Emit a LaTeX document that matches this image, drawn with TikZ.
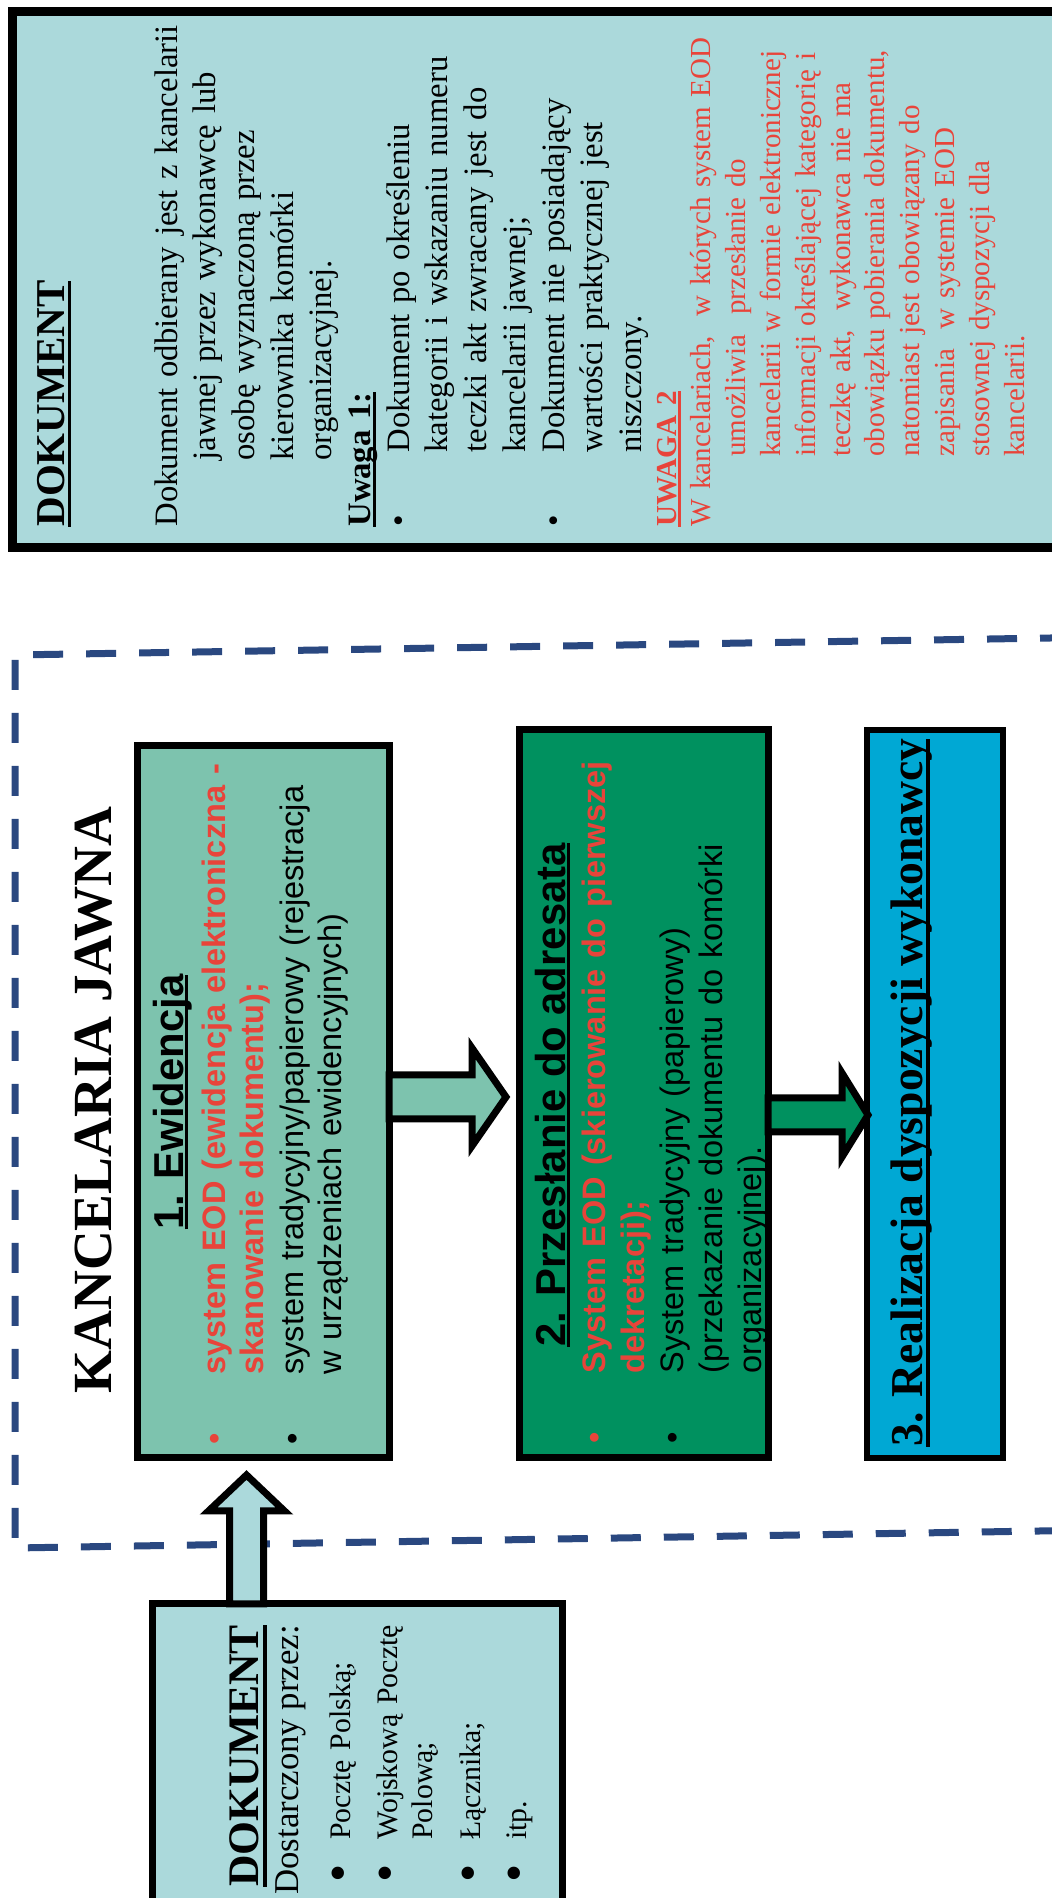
\documentclass[tikz,border=0pt]{standalone}
\usepackage{fontspec}
\setmainfont{Liberation Serif}
\setsansfont{Liberation Sans}
\usetikzlibrary{calc}

\definecolor{notebg}{RGB}{171,217,219}
\definecolor{ewidgreen}{RGB}{125,195,174}
\definecolor{przesgreen}{RGB}{0,145,95}
\definecolor{realizblue}{RGB}{0,168,212}
\definecolor{eodred}{RGB}{232,68,58}
\definecolor{frameblue}{RGB}{42,72,128}

% underline with its own depth and thickness
\newsavebox{\ulbox}
\newcommand{\ulbar}[3]{\sbox\ulbox{#3}\leavevmode\rlap{\rule[-#1]{\wd\ulbox}{#2}}\usebox\ulbox}
% bullets
\newcommand{\sbul}[1]{\leavevmode\llap{\color{#1}\textbullet\hspace{29.5pt}}}
\newcommand{\dbul}{\makebox[27.5pt][l]{\hspace{6pt}\raisebox{-2.6pt}{\scalebox{1.75}{\textbullet}}}}

\begin{document}
\begin{tikzpicture}[
    x=0.5pt, y=0.5pt,
    box/.style={draw=black, line width=3.5pt, fill=#1, inner sep=0pt, outer sep=0pt},
    vtitle/.style={rotate=90, inner sep=0pt},
    vtext/.style={rotate=90, inner sep=0pt, text width=420pt, align=left},
    blockarrow/.style={draw=black, line width=3.5pt, line join=miter, fill=#1},
    frame/.style={draw=frameblue, line width=3.5pt, dash pattern=on 15pt off 11.5pt},
  ]
  \useasboundingbox (0,0) rectangle (1052,1898);

  % --- KANCELARIA JAWNA frame ------------------------------------------
  \draw[frame] (1070,1260.3) -- (15,1243) -- (15,350) -- (1070,367.5);
  \node[vtitle, anchor=base, font=\bfseries\fontsize{27.6pt}{30pt}\selectfont] (kanc)
    at (111,798) {KANCELARIA JAWNA};

  % --- note on top ----------------------------------------------------
  \node[box=notebg, line width=4.5pt, minimum width=531.5pt, minimum height=268pt] (note)
    at (543.5,1618) {};
  \node[vtitle, anchor=base west, font=\bfseries\fontsize{20.5pt}{24pt}\selectfont] (notetitle)
    at (64,1371) {\ulbar{3.5pt}{1.7pt}{DOKUMENT}};
  \node[vtext, anchor=base west, font=\fontsize{16.35pt}{19.35pt}\selectfont] (notetext)
    at (177,1371) {Dokument odbierany jest z kancelarii\\
      \hspace*{33pt}jawnej przez wykonawcę lub\\
      \hspace*{33pt}osobę wyznaczoną przez\\
      \hspace*{33pt}kierownika komórki\\
      \hspace*{33pt}organizacyjnej.\\
      \textbf{\ulbar{2.5pt}{1.5pt}{Uwaga 1:}}\\
      \makebox[37pt][l]{\textbullet}Dokument po określeniu\\
      \hspace*{37pt}kategorii i wskazaniu numeru\\
      \hspace*{37pt}teczki akt zwracany jest do\\
      \hspace*{37pt}kancelarii jawnej;\\
      \makebox[37pt][l]{\textbullet}Dokument nie posiadający\\
      \hspace*{37pt}wartości praktycznej jest\\
      \hspace*{37pt}niszczony.};
  \node[vtext, anchor=base west, text=eodred, font=\fontsize{14.5pt}{17.4pt}\selectfont] (uwaga)
    at (676,1371) {\textbf{\ulbar{2.5pt}{1.5pt}{UWAGA 2}}\\
      W kancelariach,\ \ w których system EOD\\
      \hspace*{35pt}umożliwia\ \ przesłanie do\\
      \hspace*{35pt}kancelarii w formie elektronicznej\\
      \hspace*{35pt}informacji określającej kategorię i\\
      \hspace*{35pt}teczkę akt,\ \ wykonawca nie ma\\
      \hspace*{35pt}obowiązku pobierania dokumentu,\\
      \hspace*{35pt}natomiast jest obowiązany do\\
      \hspace*{35pt}zapisania\ \ w systemie EOD\\
      \hspace*{35pt}stosownej dyspozycji dla\\
      \hspace*{35pt}kancelarii.};

  % --- three steps ----------------------------------------------------
  \node[box=ewidgreen, minimum width=126pt, minimum height=356pt] (ewid) at (263,796) {};
  \node[vtitle, anchor=base, font=\sffamily\bfseries\fontsize{20.9pt}{24pt}\selectfont] (ewidtitle)
    at (183,796) {\ulbar{2.5pt}{1.5pt}{1. Ewidencja}};
  \node[vtext, anchor=base west, font=\sffamily\fontsize{16.25pt}{19pt}\selectfont] (ewidtext)
    at (225,523) {\sbul{eodred}{\bfseries\color{eodred}system EOD (ewidencja elektroniczna -\\
      skanowanie dokumentu);}\\[1pt]
      \sbul{black}system tradycyjny/papierowy (rejestracja\\
      w urządzeniach ewidencyjnych)};

  \node[box=przesgreen, minimum width=124.5pt, minimum height=364pt] (przes) at (643.5,804) {};
  \node[vtitle, anchor=base, font=\sffamily\bfseries\fontsize{20.9pt}{24pt}\selectfont] (prztitle)
    at (565,803) {\ulbar{2.5pt}{1.5pt}{2. Przesłanie do adresata}};
  \node[vtext, anchor=base west, font=\sffamily\fontsize{16.25pt}{19.5pt}\selectfont] (prztext)
    at (605,524) {\sbul{eodred}{\bfseries\color{eodred}System EOD (skierowanie do pierwszej\\
      dekretacji);}\\
      \sbul{black}System tradycyjny (papierowy)\\
      (przekazanie dokumentu do komórki\\
      organizacyjnej).};

  \node[box=realizblue, line width=3pt, minimum width=68pt, minimum height=364pt] (realiz)
    at (935,804) {};
  \node[vtitle, anchor=base west, font=\bfseries\fontsize{22.8pt}{26pt}\selectfont] (realiztitle)
    at (922,451) {\ulbar{4pt}{2pt}{3. Realizacja dyspozycji wykonawcy}};

  % --- incoming document ----------------------------------------------
  \node[box=notebg, minimum width=205pt, minimum height=153pt] (dostarcz) at (357,141) {};
  \node[vtitle, anchor=base west, font=\bfseries\fontsize{21.8pt}{24pt}\selectfont] (dostitle)
    at (258,11) {\ulbar{4.5pt}{2pt}{DOKUMENT}};
  \node[vtitle, anchor=base west, font=\fontsize{17.4pt}{17.5pt}\selectfont] (dosthead)
    at (298,3) {Dostarczony przez:};
  \node[vtext, anchor=base west, font=\fontsize{14.9pt}{17.5pt}\selectfont] (dostext)
    at (350,3) {\dbul Pocztę Polską;\\[6pt]
      \dbul Wojskową Pocztę\\
      \hspace*{27.5pt}Polową;\\[6.5pt]
      \dbul Łącznika;\\[5.5pt]
      \dbul itp.};

  % --- block arrows ---------------------------------------------------
  \draw[blockarrow=ewidgreen] ($(ewid.east)+(0,27)$) -- ++(83,0) -- ++(0,27)
    -- ++(34,-49) -- ++(-34,-49) -- ++(0,27) -- ++(-83,0) -- cycle;
  \draw[blockarrow=przesgreen] ($(przes.east)+(0,-4)$) -- ++(74,0) -- ++(0,25)
    -- ++(26,-42) -- ++(-26,-42) -- ++(0,25) -- ++(-74,0) -- cycle;
  \draw[blockarrow=notebg] ($(dostarcz.north)+(-93.5,0)$) -- ++(0,93) -- ++(21,0)
    -- ++(-38,36) -- ++(-38,-36) -- ++(21,0) -- ++(0,-93) -- cycle;
\end{tikzpicture}
\end{document}
